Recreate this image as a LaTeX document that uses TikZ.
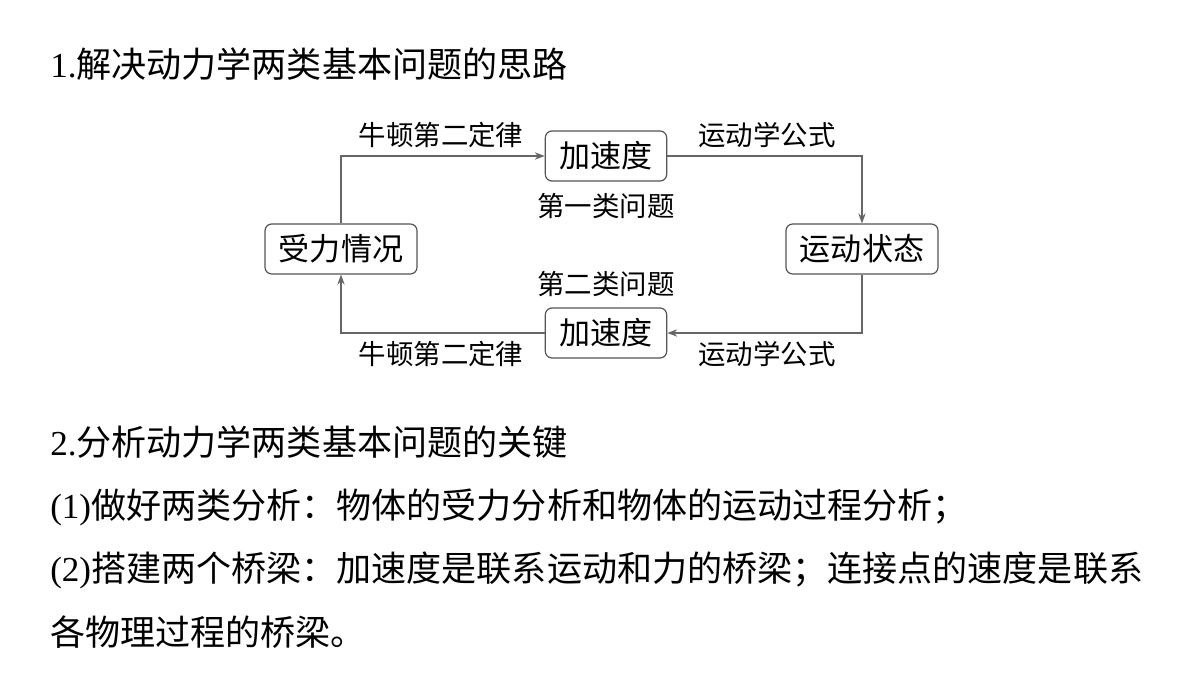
\documentclass[tikz,border=0pt]{standalone}
\usepackage{fontspec}
\setmainfont{Liberation Serif}
\newfontfamily\cjk{Noto Sans CJK SC}
\usetikzlibrary{arrows.meta}
\definecolor{boxgray}{HTML}{555555}
\definecolor{linegray}{HTML}{666666}
\begin{document}
\begin{tikzpicture}[x=0.75pt,y=-0.75pt,
  box/.style={draw=boxgray, line width=0.9pt, rounded corners=5pt, minimum height=37.5pt, inner sep=0pt, font=\cjk\fontsize{23.3}{27}\selectfont},
  lbl/.style={font=\cjk\fontsize{20.6}{24}\selectfont, inner sep=0pt},
  conn/.style={draw=linegray, line width=0.9pt, -{Stealth[length=7.5pt,width=5.5pt]}},
  txt/.style={anchor=west, inner sep=0pt, font=\fontsize{26.3}{31}\selectfont}]
\useasboundingbox (0,0) rectangle (1200,675);
\fill[white] (0,0) rectangle (1200,675);

\node[txt] (t1) at (50,64) {1.{\cjk 解决动力学两类基本问题的思路}};

\node[box, minimum width=114pt] (f) at (341,249) {受力情况};
\node[box, minimum width=91pt] (a1) at (606,156) {加速度};
\node[box, minimum width=114pt] (s) at (862,249) {运动状态};
\node[box, minimum width=91pt] (a2) at (606,333) {加速度};

\draw[conn] (f.north) |- (a1.west);
\draw[conn] (a1.east) -| (s.north);
\draw[conn] (s.south) |- (a2.east);
\draw[conn] (a2.west) -| (f.south);

\node[lbl] (l1) at (441,135) {牛顿第二定律};
\node[lbl] (l2) at (767,135) {运动学公式};
\node[lbl] (l3) at (606,206) {第一类问题};
\node[lbl] (l4) at (606,284) {第二类问题};
\node[lbl] (l5) at (441,354) {牛顿第二定律};
\node[lbl] (l6) at (767,354) {运动学公式};

\node[txt] (t2) at (50,442) {2.{\cjk 分析动力学两类基本问题的关键}};
\node[txt] (t3) at (50,507) {(1){\cjk 做好两类分析：物体的受力分析和物体的运动过程分析；}};
\node[txt] (t4) at (50,570) {(2){\cjk 搭建两个桥梁：加速度是联系运动和力的桥梁；连接点的速度是联系}};
\node[txt] (t5) at (50,632) {{\cjk 各物理过程的桥梁。}};
\end{tikzpicture}
\end{document}
